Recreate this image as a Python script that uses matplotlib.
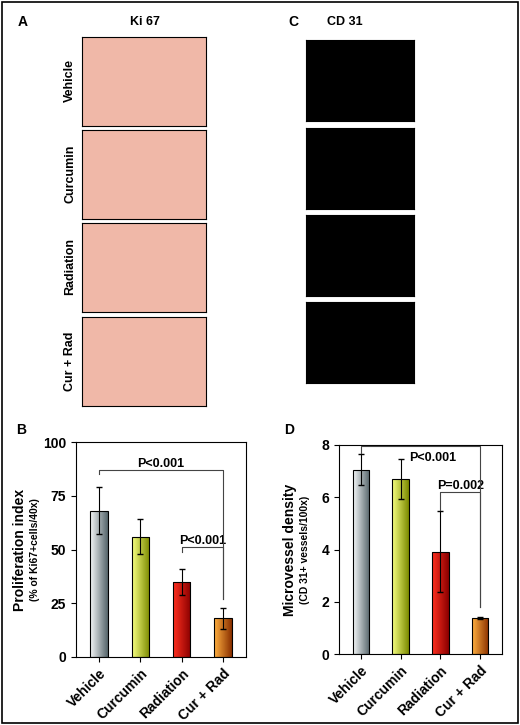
import numpy as np
import matplotlib.pyplot as plt
from matplotlib.colors import LinearSegmentedColormap
from matplotlib.patches import Rectangle

groups = ['Vehicle', 'Curcumin', 'Radiation', 'Cur + Rad']
prolif = [68, 56, 35, 18]
prolif_err = [11, 8, 6, 5]
mvd = [7.05, 6.7, 3.92, 1.38]
mvd_err = [0.6, 0.75, 1.55, 0.05]
ki_labels = ['Vehicle', 'Curcumin', 'Radiation', 'Cur + Rad']

grads = [('#f4f7f8', '#56656b'), ('#f6ff80', '#7c8a00'),
         ('#ff3020', '#8a0000'), ('#ffb040', '#8a3000')]

W, H = 520, 725
fig = plt.figure(figsize=(W / 100, H / 100), dpi=100)
plt.rcParams['font.family'] = ['Liberation Sans', 'DejaVu Sans']
plt.rcParams['font.weight'] = 'bold'


def ax_px(x0, y0, x1, y1):
    return fig.add_axes([x0 / W, 1 - y1 / H, (x1 - x0) / W, (y1 - y0) / H])


frame = fig.add_axes([0, 0, 1, 1])
frame.set_xlim(0, 1)
frame.set_ylim(0, 1)
frame.axis('off')
frame.add_patch(Rectangle((0.003, 0.003), 0.994, 0.994, fill=False, lw=1.2, ec='black'))

# panel A images
fig.text(18 / W, 1 - 22 / H, 'A', fontsize=10, fontweight='bold', va='center')
fig.text(145 / W, 1 - 22 / H, 'Ki 67', fontsize=9, fontweight='bold', ha='center', va='center')
a_tops = [37, 130, 223, 317]
for lab, top in zip(ki_labels, a_tops):
    a = ax_px(82, top, 206, top + 89)
    a.set_facecolor('#f0b8a8')
    a.set_xticks([])
    a.set_yticks([])
    fig.text(70 / W, 1 - (top + 44) / H, lab, rotation=90, fontsize=9, fontweight='bold',
             ha='center', va='center')

# panel C images
fig.text(288 / W, 1 - 22 / H, 'C', fontsize=10, fontweight='bold', va='center')
fig.text(345 / W, 1 - 22 / H, 'CD 31', fontsize=9, fontweight='bold', ha='center', va='center')
for top in [40, 128, 215, 302]:
    c = ax_px(306, top, 414, top + 81)
    c.set_facecolor('black')
    c.set_xticks([])
    c.set_yticks([])


def gradient_bars(ax, vals, errs):
    x = np.arange(len(vals))
    bars = ax.bar(x, vals, width=0.42, color='none', edgecolor='black', lw=0.8, zorder=3)
    g = np.linspace(0, 1, 64).reshape(1, -1)
    for b, (c0, c1) in zip(bars, grads):
        cmap = LinearSegmentedColormap.from_list('g', [c0, c1])
        im = ax.imshow(g, cmap=cmap, aspect='auto', zorder=2,
                       extent=[b.get_x(), b.get_x() + b.get_width(), 0, b.get_height()])
        im.set_clip_path(b)
    ax.errorbar(x, vals, yerr=errs, fmt='none', ecolor='black', elinewidth=0.8,
                capsize=2, zorder=4)
    ax.set_xlim(-0.55, 3.55)
    ax.set_xticks(x)
    ax.set_xticklabels(groups, rotation=45, ha='right', rotation_mode='anchor', fontsize=10)
    ax.tick_params(labelsize=10)
    for lb in ax.get_xticklabels() + ax.get_yticklabels():
        lb.set_fontweight('bold')


def bracket(ax, x0, x1, y, y0, y1, text):
    ax.plot([x0, x0, x1, x1], [y0, y, y, y1], color='#444444', lw=0.8, zorder=5)
    ax.text((x0 + x1) / 2, y, text, ha='center', va='bottom', fontsize=9, fontweight='bold')


# panel B
fig.text(16 / W, 1 - 430 / H, 'B', fontsize=10, fontweight='bold', va='center')
b = ax_px(76, 442, 246, 657)
gradient_bars(b, prolif, prolif_err)
b.set_ylim(0, 100)
b.set_yticks([0, 25, 50, 75, 100])
bracket(b, 0, 3, 87, 85, 27, 'P<0.001')
bracket(b, 2, 3, 51, 49, 27, 'P<0.001')
b.text(-0.33, 0.5, 'Proliferation index', transform=b.transAxes, rotation=90,
       ha='center', va='center', fontsize=10, fontweight='bold')
b.text(-0.24, 0.5, '(% of Ki67+cells/40x)', transform=b.transAxes, rotation=90,
       ha='center', va='center', fontsize=7.5)

# panel D
fig.text(284 / W, 1 - 430 / H, 'D', fontsize=10, fontweight='bold', va='center')
d = ax_px(339, 445, 502, 654)
gradient_bars(d, mvd, mvd_err)
d.set_ylim(0, 8)
d.set_yticks([0, 2, 4, 6, 8])
bracket(d, 0, 3, 7.95, 7.7, 1.8, '')
d.text(1.8, 7.75, 'P<0.001', ha='center', va='top', fontsize=9, fontweight='bold')
bracket(d, 2, 3, 6.2, 5.5, 1.8, 'P=0.002')
d.text(-0.3, 0.5, 'Microvessel density', transform=d.transAxes, rotation=90,
       ha='center', va='center', fontsize=10, fontweight='bold')
d.text(-0.21, 0.5, '(CD 31+ vessels/100x)', transform=d.transAxes, rotation=90,
       ha='center', va='center', fontsize=7.5)

fig.savefig('out.png', dpi=100)
